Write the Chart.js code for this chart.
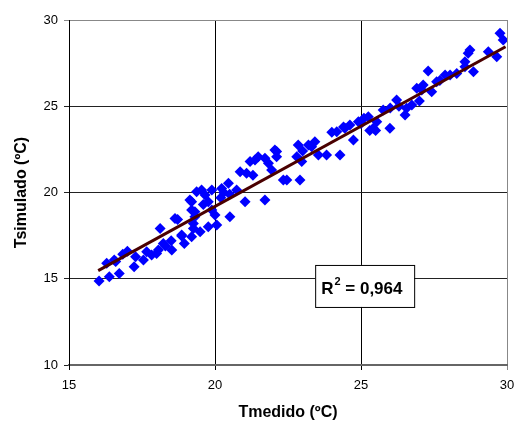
<!DOCTYPE html>
<html>
<head>
<meta charset="utf-8">
<script src="https://cdn.jsdelivr.net/npm/chart.js@4/dist/chart.umd.min.js"></script>
<style>
  html, body { margin: 0; padding: 0; background: #fff; }
  #wrap { width: 514px; height: 432px; }
</style>
</head>
<body>
<div id="wrap"><canvas id="scatter-chart"></canvas></div>
<script>
  'use strict';

  let tMedido = [
    16.03, 16.38, 16.72, 16.55, 16.84, 16.29, 17.23, 17.28, 17.55, 17.66,
    17.83, 18.00, 18.06, 18.12, 18.23, 18.30, 18.52, 18.63, 18.86, 18.95,
    19.20, 19.26, 19.20, 19.37, 19.14, 19.31, 18.72, 18.86, 19.20, 19.31,
    19.54, 19.66, 19.77, 19.89, 20.00, 19.89, 20.06, 19.77, 19.49, 19.26,
    20.23, 20.46, 20.51, 20.74, 21.03, 20.86, 21.08, 21.20, 21.37, 21.48,
    21.71, 21.83, 22.11, 21.71, 22.34, 22.05, 22.11, 21.94, 22.46, 22.91,
    22.85, 22.80, 22.97, 23.20, 23.42, 23.31, 23.54, 23.82, 24.17, 24.28,
    24.45, 24.62, 24.74, 24.91, 25.25, 25.42, 25.54, 25.76, 25.99, 26.22,
    26.51, 26.56, 26.74, 26.91, 27.08, 27.13, 27.30, 27.42, 27.59, 28.05,
    28.28, 28.56, 27.88, 28.56, 28.67, 28.73, 28.85, 29.36, 29.65, 29.76,
    29.87, 16.60, 18.50, 20.20, 20.50, 21.30, 24.00, 25.00, 25.50, 26.00,
    26.30, 27.00, 27.70, 25.10, 25.30, 17.00, 19.60, 20.30, 23.00, 24.40
  ];
  let tSimulado = [
    14.87, 15.12, 15.30, 16.09, 16.42, 15.90, 15.70, 16.28, 16.09, 16.57,
    16.38, 16.47, 16.67, 17.92, 17.05, 16.90, 16.67, 18.50, 17.54, 17.05,
    17.44, 18.21, 18.99, 20.05, 19.57, 18.60, 18.44, 17.48, 19.47, 18.89,
    20.14, 19.86, 19.47, 20.14, 18.70, 18.99, 18.12, 18.02, 17.73, 17.92,
    20.23, 20.53, 18.60, 20.14, 19.47, 21.20, 21.11, 21.79, 21.88, 22.07,
    21.98, 21.69, 22.37, 19.57, 20.72, 22.46, 22.07, 21.30, 20.72, 20.72,
    22.75, 22.07, 21.79, 22.75, 22.94, 22.65, 22.17, 22.17, 23.52, 22.17,
    23.72, 23.91, 23.04, 24.10, 24.39, 23.72, 24.10, 24.78, 23.72, 25.36,
    24.49, 24.88, 25.07, 26.04, 25.94, 26.23, 27.04, 25.84, 26.42, 26.81,
    26.90, 27.58, 26.81, 27.29, 28.07, 28.26, 27.00, 28.16, 27.87, 29.23,
    28.84, 16.00, 17.20, 19.70, 19.90, 21.00, 23.50, 24.00, 23.60, 24.90,
    25.00, 25.30, 26.50, 24.30, 23.60, 16.60, 19.30, 20.00, 22.40, 23.80
  ];

  // Linear trend line end points.
  let trendX = [16.0, 29.95];
  let trendY = [15.47, 28.45];

  let xTicks = [15, 20, 25, 30];
  let yTicks = [10, 15, 20, 25, 30];
  let r2Label = '0,964';

  let points = tMedido.map((x, i) => ({x: x, y: tSimulado[i]}));
  let trend = trendX.map((x, i) => ({x: x, y: trendY[i]}));

  let fontFamily = '"Liberation Sans", Arial, sans-serif';

  // R² box drawn inside the plot area.
  let r2Box = {
    id: 'r2Box',
    afterDatasetsDraw: function(chart) {
      let ctx = chart.ctx;
      let area = chart.chartArea;
      let w = 99;
      let h = 42;
      let left = area.left + (area.right - area.left) * 0.562;
      let top = area.top + (area.bottom - area.top) * 0.71;
      ctx.save();
      ctx.fillStyle = '#fff';
      ctx.fillRect(left, top, w, h);
      ctx.strokeStyle = '#000';
      ctx.lineWidth = 1;
      ctx.strokeRect(left + 0.5, top + 0.5, w, h);
      ctx.fillStyle = '#000';
      ctx.textBaseline = 'alphabetic';
      ctx.font = 'bold 17px ' + fontFamily;
      let x = left + 6;
      let y = top + 29;
      ctx.fillText('R', x, y);
      x += ctx.measureText('R').width + 1;
      ctx.font = 'bold 11px ' + fontFamily;
      ctx.fillText('2', x, y - 9);
      x += ctx.measureText('2').width;
      ctx.font = 'bold 17px ' + fontFamily;
      ctx.fillText(' = ' + r2Label, x, y);
      ctx.restore();
    },
  };

  let config = {
    type: 'scatter',
    data: {
      datasets: [
        {
          label: 'Tsimulado',
          data: points,
          pointStyle: 'rectRot',
          pointRadius: 5.5,
          pointBackgroundColor: '#0000ff',
          pointBorderColor: '#0000ff',
          pointBorderWidth: 0,
          order: 2,
        },
        {
          type: 'line',
          label: 'Lineal',
          data: trend,
          borderColor: '#4a0000',
          borderWidth: 3,
          pointRadius: 0,
          fill: false,
          order: 1,
        },
      ],
    },
    options: {
      responsive: true,
      maintainAspectRatio: false,
      animation: false,
      layout: {
        padding: {top: 20, right: 7, bottom: 0, left: 0},
      },
      plugins: {
        legend: {display: false},
        tooltip: {enabled: false},
      },
      scales: {
        x: {
          type: 'linear',
          min: 15,
          max: 30,
          afterBuildTicks: function(scale) {
            scale.ticks = xTicks.map(v => ({value: v}));
          },
          afterFit: function(scale) {
            scale.height = 67;
            scale.paddingLeft = 0;
            scale.paddingRight = 0;
          },
          grid: {
            color: ctx => (ctx.tick && ctx.tick.value === 30) ? '#888' : '#000',
            lineWidth: 1,
            tickLength: 5,
          },
          border: {color: '#666', width: 2},
          ticks: {
            color: '#000',
            padding: 8,
            font: {family: fontFamily, size: 13},
          },
          title: {
            display: true,
            text: 'Tmedido (ºC)',
            color: '#000',
            font: {family: fontFamily, size: 16, weight: 'bold'},
            padding: {top: 4, bottom: 10},
          },
        },
        y: {
          type: 'linear',
          min: 10,
          max: 30,
          afterBuildTicks: function(scale) {
            scale.ticks = yTicks.map(v => ({value: v}));
          },
          afterFit: function(scale) {
            scale.width = 69;
            scale.paddingTop = 0;
            scale.paddingBottom = 0;
          },
          grid: {
            color: ctx => (ctx.tick && ctx.tick.value === 30) ? '#888' : '#222',
            lineWidth: 1,
            tickLength: 5,
          },
          border: {color: '#000', width: 1},
          ticks: {
            color: '#000',
            padding: 6,
            font: {family: fontFamily, size: 13},
          },
          title: {
            display: true,
            text: 'Tsimulado (ºC)',
            color: '#000',
            font: {family: fontFamily, size: 16, weight: 'bold'},
            padding: {top: 12, bottom: 4},
          },
        },
      },
    },
    plugins: [r2Box],
  };

  let scatterChart = new Chart(document.getElementById('scatter-chart'), config);
</script>
</body>
</html>
